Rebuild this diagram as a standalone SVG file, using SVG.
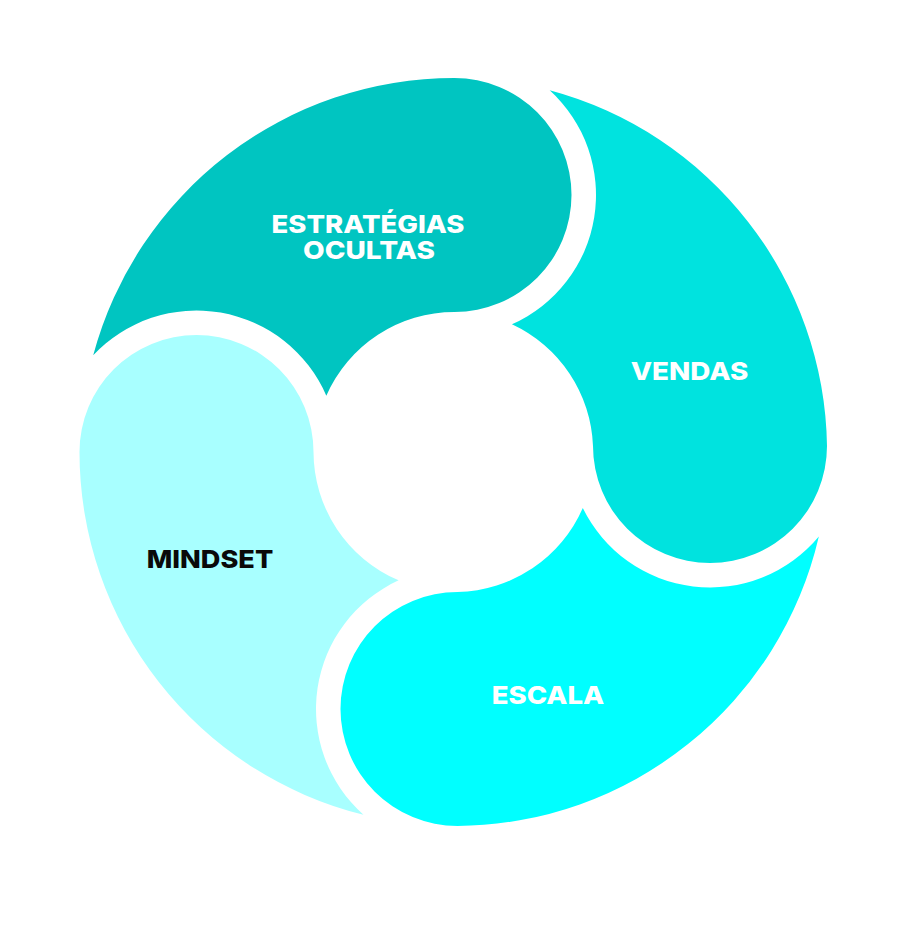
<svg xmlns="http://www.w3.org/2000/svg" width="909" height="942" viewBox="0 0 909 942">
<style>
.lbl{font-family:Inter,"DejaVu Sans","Liberation Sans",Arial,sans-serif;font-weight:800;font-size:25px;text-anchor:middle}
.w{fill:#ffffff}
.k{fill:#0a0a0a}
</style>
<rect width="909" height="942" fill="#ffffff"/>
<g id="connectors"></g>
<g id="node-estrategias">
<path fill="#00C5C1" d="M93.22,355.3 A374,374 0 0 1 454.5,78 A117,117 0 0 1 454.5,312 A140,140 0 0 0 326.32,395.7 A141.5,141.5 0 0 0 93.22,355.3 Z"/>
<text class="lbl w" x="368" y="232.5" font-size="26" textLength="193" lengthAdjust="spacingAndGlyphs">ESTRATÉGIAS</text>
<text class="lbl w" x="369" y="258.5" font-size="26" textLength="132" lengthAdjust="spacingAndGlyphs">OCULTAS</text>
</g>
<g id="node-vendas">
<path fill="#00E3DF" d="M549.7,90.32 A374,374 0 0 1 827,446 A117,117 0 0 1 593,446 A140,140 0 0 0 511.93,324.32 A141.5,141.5 0 0 0 549.7,90.32 Z"/>
<text class="lbl w" x="689.5" y="380" textLength="117.5" lengthAdjust="spacingAndGlyphs">VENDAS</text>
</g>
<g id="node-escala">
<path fill="#00FFFF" d="M818.84,536.43 A374,374 0 0 1 457.5,826 A117,117 0 0 1 457.5,592 A140,140 0 0 0 582.8,508 A141.5,141.5 0 0 0 818.84,536.43 Z"/>
<text class="lbl w" x="548" y="704" textLength="112.5" lengthAdjust="spacingAndGlyphs">ESCALA</text>
</g>
<g id="node-mindset">
<path fill="#A8FFFF" d="M363.49,814.76 A374,374 0 0 1 79.5,452 A117,117 0 0 1 313.5,452 A140,140 0 0 0 398.59,580.35 A141.5,141.5 0 0 0 363.49,814.76 Z"/>
<text class="lbl k" x="210" y="567.5" textLength="126.5" lengthAdjust="spacingAndGlyphs">MINDSET</text>
</g>
</svg>
